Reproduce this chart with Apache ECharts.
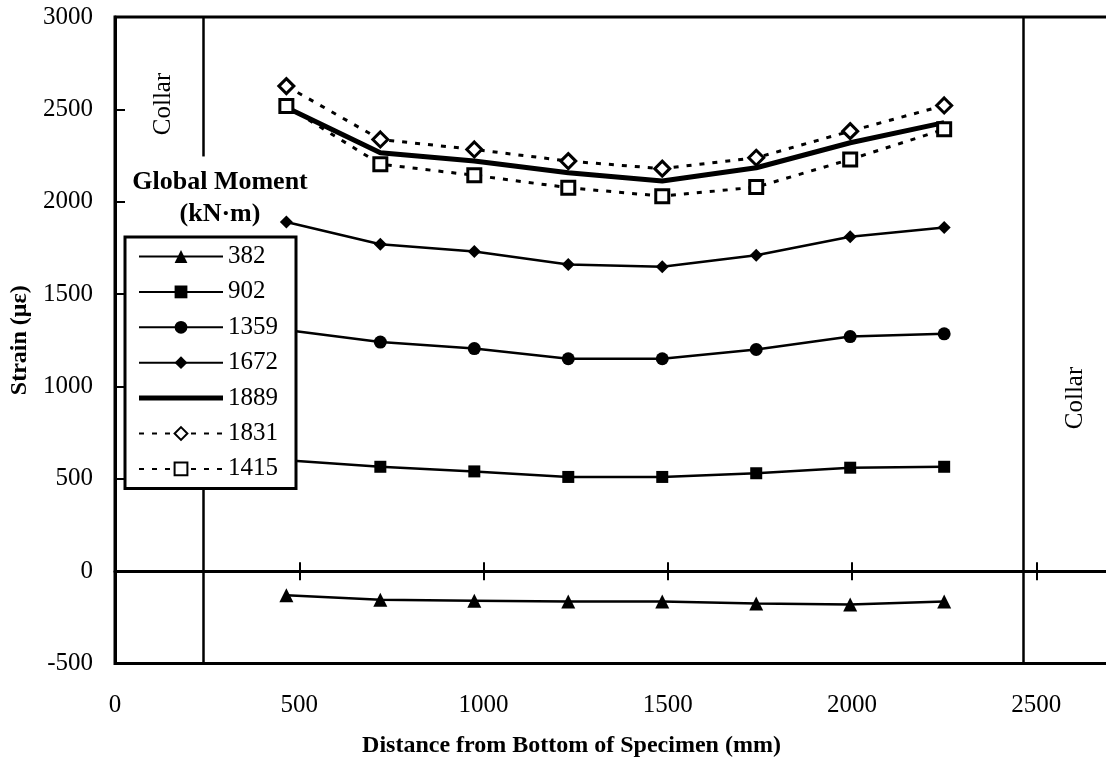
<!DOCTYPE html>
<html>
<head>
<meta charset="utf-8">
<script src="https://cdn.jsdelivr.net/npm/echarts@6/dist/echarts.min.js"></script>
<style>
  html, body { margin: 0; padding: 0; background: #fff; }
  #chart { width: 1106px; height: 774px; }
</style>
</head>
<body>
<div id="chart"></div>
<script>
// Gauge positions along the specimen (mm)
const positions = [465, 720, 975, 1230, 1485, 1740, 1995, 2250];

// Strain readings (microstrain) for each global moment level (kN·m)
const strain382  = [-130, -155, -160, -165, -165, -175, -180, -165];
const strain902  = [600, 565, 540, 510, 510, 530, 560, 565];
const strain1359 = [1305, 1240, 1205, 1150, 1150, 1200, 1270, 1285];
const strain1672 = [1890, 1770, 1730, 1660, 1648, 1710, 1810, 1860];
const strain1889 = [2510, 2265, 2220, 2157, 2112, 2184, 2319, 2428];
const strain1831 = [2626, 2337, 2283, 2220, 2179, 2238, 2382, 2521];
const strain1415 = [2518, 2203, 2143, 2076, 2030, 2079, 2229, 2392];

const momentNames = ['382', '902', '1359', '1672', '1889', '1831', '1415'];

// Collar boundaries (mm) and the axis ranges
const collarEdges = [240, 2465];
const xRange = [0, 2700];
const yRange = [-500, 3000];
const tickStep = 500;

const serif = '"Liberation Serif", "Times New Roman", serif';
const ink = '#000';

const pairs = vals => positions.map((x, i) => [x, vals[i]]);

function lineSeries(name, vals, symbol, size, opts) {
  opts = opts || {};
  return {
    name: name,
    type: 'line',
    xAxisIndex: 0,
    yAxisIndex: 0,
    data: pairs(vals),
    symbol: symbol || 'none',
    symbolSize: size,
    showSymbol: !!symbol,
    lineStyle: { color: ink, width: opts.width || 2.5, type: opts.dash || 'solid' },
    itemStyle: opts.hollow
      ? { color: '#fff', borderColor: ink, borderWidth: 3 }
      : { color: ink, borderWidth: 0 },
    emphasis: { disabled: true },
    z: 2
  };
}

const series = [
  lineSeries('382', strain382, 'triangle', 14),
  lineSeries('902', strain902, 'rect', 12),
  lineSeries('1359', strain1359, 'circle', 13),
  lineSeries('1672', strain1672, 'diamond', 13),
  lineSeries('1889', strain1889, null, 0, { width: 5 }),
  lineSeries('1831', strain1831, 'diamond', 15, { width: 3, dash: [5, 8], hollow: true }),
  lineSeries('1415', strain1415, 'rect', 13, { width: 3, dash: [5, 8], hollow: true })
];

// Collar boundary lines; the left one is interrupted by the legend title
series[0].markLine = {
  silent: true,
  z: 1,
  symbol: 'none',
  label: { show: false },
  lineStyle: { color: ink, width: 2.5, type: 'solid' },
  data: [
    [{ coord: [collarEdges[0], yRange[1]] }, { coord: [collarEdges[0], 2245] }],
    [{ coord: [collarEdges[0], 1790] }, { coord: [collarEdges[0], yRange[0]] }],
    [{ coord: [collarEdges[1], yRange[1]] }, { coord: [collarEdges[1], yRange[0]] }]
  ]
};

const tickFmt = v => (v % tickStep === 0 ? String(v) : '');

const baseX = {
  type: 'value',
  min: xRange[0],
  max: xRange[1],
  interval: tickStep,
  splitLine: { show: false }
};

const option = {
  animation: false,
  backgroundColor: '#fff',
  grid: {
    left: 115,
    right: -4,
    top: 17,
    bottom: 110.5,
    containLabel: false,
    outerBoundsMode: 'none',
    show: true,
    borderColor: ink,
    borderWidth: 3,
    backgroundColor: 'transparent'
  },
  xAxis: [
    Object.assign({}, baseX, {
      position: 'bottom',
      axisLine: { show: false, onZero: false },
      axisTick: { show: false },
      axisLabel: {
        formatter: tickFmt,
        margin: 29,
        color: ink,
        fontFamily: serif,
        fontSize: 25
      },
      name: 'Distance from Bottom of Specimen (mm)',
      nameLocation: 'middle',
      nameGap: 70,
      nameTextStyle: {
        color: ink,
        fontFamily: serif,
        fontSize: 24,
        fontWeight: 'bold',
        padding: [0, 82, 0, 0]
      }
    }),
    Object.assign({}, baseX, {
      position: 'bottom',
      axisLine: { show: true, onZero: true, onZeroAxisIndex: 0, lineStyle: { color: ink, width: 3 } },
      axisTick: { show: true, length: 9, lineStyle: { color: ink, width: 2 } },
      axisLabel: { show: false }
    }),
    Object.assign({}, baseX, {
      position: 'top',
      axisLine: { show: false, onZero: true, onZeroAxisIndex: 0 },
      axisTick: { show: true, length: 9, lineStyle: { color: ink, width: 2 } },
      axisLabel: { show: false }
    })
  ],
  yAxis: {
    type: 'value',
    min: yRange[0],
    max: yRange[1],
    interval: tickStep,
    splitLine: { show: false },
    axisLine: { show: true, lineStyle: { color: ink, width: 3 } },
    axisTick: { show: true, inside: true, length: 10, lineStyle: { color: ink, width: 2 } },
    axisLabel: {
      formatter: v => String(v),
      margin: 22,
      color: ink,
      fontFamily: serif,
      fontSize: 25
    },
    name: 'Strain (με)',
    nameLocation: 'middle',
    nameGap: 81,
    nameRotate: 90,
    nameTextStyle: { color: ink, fontFamily: serif, fontSize: 24, fontWeight: 'bold' }
  },
  legend: {
    orient: 'vertical',
    left: 125,
    top: 237,
    z: 10,
    itemWidth: 84,
    itemHeight: 16,
    itemGap: 10.4,
    padding: [7, 18, 7, 13],
    backgroundColor: '#fff',
    borderColor: ink,
    borderWidth: 3,
    selectedMode: false,
    textStyle: { color: ink, fontFamily: serif, fontSize: 25 },
    data: momentNames.map(n => n === '1889'
      ? { name: n, icon: 'path://M0 0H84V5H0Z' }
      : { name: n })
  },
  graphic: [
    {
      type: 'text', x: 220, y: 182, z: 20,
      style: { text: 'Global Moment', fill: ink, font: 'bold 26px ' + serif, align: 'center', verticalAlign: 'middle' }
    },
    {
      type: 'text', x: 220, y: 214, z: 20,
      style: { text: '(kN·m)', fill: ink, font: 'bold 26px ' + serif, align: 'center', verticalAlign: 'middle' }
    },
    {
      type: 'text', x: 163, y: 104, rotation: Math.PI / 2, z: 20,
      style: { text: 'Collar', fill: ink, font: '25px ' + serif, align: 'center', verticalAlign: 'middle' }
    },
    {
      type: 'text', x: 1075, y: 398, rotation: Math.PI / 2, z: 20,
      style: { text: 'Collar', fill: ink, font: '25px ' + serif, align: 'center', verticalAlign: 'middle' }
    }
  ],
  series: series
};

const chart = echarts.init(document.getElementById('chart'), null, { renderer: 'canvas' });
chart.setOption(option);
</script>
</body>
</html>
